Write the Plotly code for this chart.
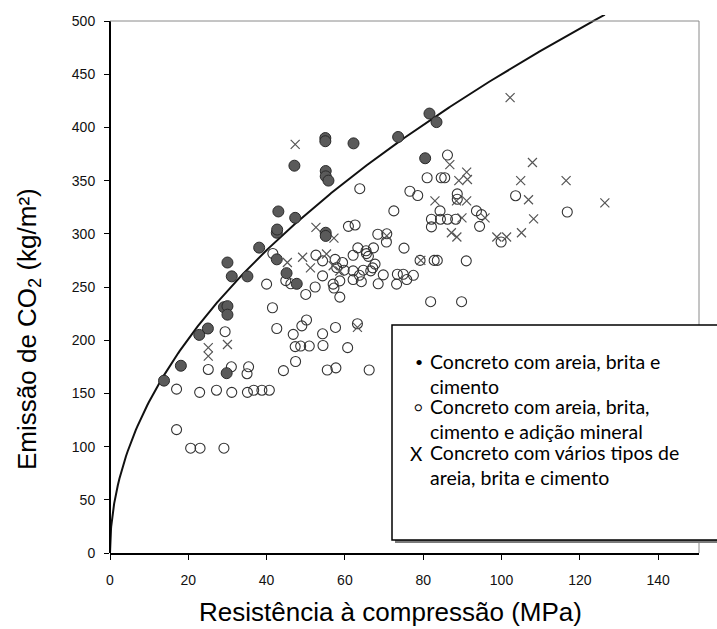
import numpy as np
import plotly.graph_objects as go

# ---------------- data ----------------
filled_x = [13.8, 18.1, 22.8, 25.0, 29.1, 30.0, 30.0, 29.8, 30.0, 31.1, 35.1, 38.1, 42.6, 42.6, 42.7,
            43.0, 45.1, 47.7, 47.3, 47.1, 55.0, 55.0, 55.1, 55.1, 55.8, 55.1, 55.1, 62.2, 73.6, 80.5,
            81.6, 83.4]
filled_y = [162, 176, 205, 211, 231, 232, 224, 169, 273, 260, 260, 287, 276, 301, 304,
            321, 263, 253, 315, 364, 390, 387, 359, 354, 350, 301, 298, 385, 391, 371,
            413, 405]

mineral_x = [17, 22.9, 27.2, 31.1, 35.1, 36.7, 38.8, 40.7,
             17, 20.6, 23, 29.1,
             25.1, 31, 35.4, 35, 44.3, 47.4,
             29.4, 41.5, 40, 42.6,
             46.8, 47.3, 48.7, 50.9, 49, 50.2,
             50, 52.4, 44.9, 46.2, 41.6, 52.6,
             54.3, 57.6, 54.4, 60.7, 55.5, 57.7, 66.2,
             54.3, 57.2, 58.7, 57, 58.7, 54.3, 57.9, 59.4, 57.5,
             59.8, 62.1, 64.7, 63.7, 62.1, 64.2,
             67.7, 66.6, 67.1, 62.1, 66, 65.5, 63.3, 65.4, 67.3, 75.1,
             69.8, 73.4, 74.9, 77.5, 75.8, 73.2, 68.5,
             68.4, 70.7, 70.6,
             60.9, 62.6, 72.5, 63.8, 76.6, 78.6,
             79.2, 82.8, 83.6, 91, 81.9, 89.8,
             81, 84.6, 85.5, 86.2, 88.7, 88.7,
             82.1, 84.4, 86.2, 88.3, 84.3, 82.1, 93.6, 94.4, 94.9,
             103.6, 116.8, 99.9, 63.2]
mineral_y = [154, 151, 153, 151, 151, 153, 153, 153,
             116, 98.5, 98.5, 98.5,
             172.5, 175, 175, 168.5, 171.4, 180,
             208, 230.5, 252.7, 211,
             205.5, 194, 194.5, 194.5, 213.5, 219,
             243, 250, 256, 253, 281.5, 280,
             206, 212, 195, 193, 172, 174, 172,
             260.5, 249, 240.5, 252.7, 255.8, 274.6, 268.3, 273, 276,
             265.8, 265.2, 265.8, 261, 257, 255,
             271.5, 265.2, 268, 279.8, 278.8, 281.4, 286.8, 284, 286.8, 286.5,
             261.4, 262, 262, 261, 257, 252.7, 253,
             299.6, 300, 292.3,
             307, 308.3, 321.5, 342.4, 340, 336,
             275, 275, 275, 274.6, 236.2, 236.2,
             352.7, 352.7, 352.7, 374, 337.5, 332.5,
             313.7, 313.7, 313.7, 313.7, 321.5, 306.5, 321.5, 307, 318,
             335.8, 320.5, 292.3, 215.5]

varios_x = [25.1, 25.1, 30, 45.3, 47.3, 49.2, 51.2, 52.6, 57.2, 55.3, 57, 58.7, 63.2, 70.7, 79.4,
            83, 86.8, 88.5, 89.1, 91.1, 91.3, 91.1, 87.2, 88.6, 89.9, 95.8, 98.8, 101.3, 102.2,
            104.9, 105.1, 106.9, 107.9, 108.2, 116.5, 126.4]
varios_y = [193, 185, 196, 273, 384, 278, 268, 306, 296, 281, 270, 265, 212, 298, 275,
            331, 365, 331, 350, 358, 351, 331, 301, 297, 315, 315, 297, 297, 428,
            350, 301, 332, 367, 314, 350, 329]

# envelope curve  y = a * x^b
curve_a = 45.0
curve_b = 0.5
curve_xmax = 126.4

x_ticks = [0, 20, 40, 60, 80, 100, 120, 140]
y_ticks = [0, 50, 100, 150, 200, 250, 300, 350, 400, 450, 500]

legend_labels = ["Concreto com areia, brita e<br>cimento",
                 "Concreto com areia, brita,<br>cimento e adição mineral",
                 "Concreto com vários tipos de<br>areia, brita e cimento"]
legend_symbols = ["•", "○", "X"]

x_title = "Resistência à compressão (MPa)"
y_title = "Emissão de CO<sub>2</sub> (kg/m²)"

# ---------------- layout geometry (pixels) ----------------
W, H = 717, 629
L, R, T, B = 110, 18, 15, 76
PW, PH = W - L - R, H - T - B
px_per_y = 532.0 / 500.0
y_top = PH / px_per_y
x_top = PW / (78.3 / 20.0)


def px(xp):
    return (xp - L) / PW


def py(yp):
    return (H - B - yp) / PH


curve_x = np.concatenate([np.linspace(0, 2, 60), np.linspace(2, curve_xmax, 300)])
curve_y = curve_a * curve_x ** curve_b

fig = go.Figure()
fig.add_trace(go.Scatter(x=curve_x, y=curve_y, mode="lines",
                         line=dict(color="#111111", width=2), hoverinfo="skip"))
fig.add_trace(go.Scatter(x=mineral_x, y=mineral_y, mode="markers",
                         marker=dict(symbol="circle-open", size=10, color="#333333",
                                     line=dict(width=1.1, color="#333333"))))
fig.add_trace(go.Scatter(x=varios_x, y=varios_y, mode="markers",
                         marker=dict(symbol="x-thin-open", size=9, color="#555555",
                                     line=dict(width=1.2, color="#555555"))))
fig.add_trace(go.Scatter(x=filled_x, y=filled_y, mode="markers",
                         marker=dict(symbol="circle", size=11, color="#5a5a5a",
                                     line=dict(width=1, color="#2a2a2a"))))

font_ax = "Arial, Liberation Sans, sans-serif"

fig.update_layout(
    width=W, height=H, showlegend=False,
    margin=dict(l=L, r=R, t=T, b=B, pad=0),
    paper_bgcolor="white", plot_bgcolor="white",
    xaxis=dict(range=[0, x_top], tickvals=x_ticks, showgrid=False, zeroline=False,
               showline=True, linecolor="black", linewidth=2,
               ticks="outside", ticklen=5, tickwidth=1, tickcolor="black",
               tickfont=dict(family=font_ax, size=14, color="#111111"),
               ticklabelstandoff=8),
    yaxis=dict(range=[0, y_top], tickvals=y_ticks, showgrid=False, zeroline=False,
               showline=False,
               ticks="outside", ticklen=5, tickwidth=1, tickcolor="black",
               tickfont=dict(family=font_ax, size=14, color="#111111"),
               ticklabelstandoff=6),
)

shapes = []
# left axis line (black) and top/right frame (gray)
shapes.append(dict(type="line", xref="paper", yref="y", x0=0, x1=0, y0=0, y1=500,
                   line=dict(color="black", width=2)))
shapes.append(dict(type="line", xref="paper", yref="y", x0=0, x1=1, y0=500, y1=500,
                   line=dict(color="#8a8a8a", width=1)))
shapes.append(dict(type="line", xref="paper", yref="y", x0=1, x1=1, y0=0, y1=500,
                   line=dict(color="#8a8a8a", width=1)))
# legend box with shadow (box runs past the right edge of the picture)
shapes.append(dict(type="rect", xref="paper", yref="paper",
                   x0=px(395), x1=px(740), y0=py(543), y1=py(328),
                   line=dict(width=0), fillcolor="#7a7a7a", layer="above"))
shapes.append(dict(type="rect", xref="paper", yref="paper",
                   x0=px(392), x1=px(735), y0=py(540), y1=py(325),
                   line=dict(color="black", width=1.5), fillcolor="white", layer="above"))
fig.update_layout(shapes=shapes)

ann = []
leg_font = dict(family="Lato, Carlito, Calibri, sans-serif", size=19.5, color="black")
pair_y = [373.5, 418.5, 465]
line_off = 11.8
for i, t in enumerate(legend_labels):
    ann.append(dict(xref="paper", yref="paper", x=px(428), y=py(pair_y[i]), text=t,
                    showarrow=False, xanchor="left", yanchor="middle", align="left",
                    font=leg_font))
sym_sizes = [14, 13, 19]
sym_x = [419, 418, 416.5]
for i, s in enumerate(legend_symbols):
    ann.append(dict(xref="paper", yref="paper", x=px(sym_x[i]), y=py(pair_y[i] - line_off),
                    text=s, showarrow=False, xanchor="center", yanchor="middle",
                    font=dict(family="Lato, sans-serif", size=sym_sizes[i], color="black")))
ann.append(dict(xref="paper", yref="paper", x=px(390), y=py(612), text=x_title,
                showarrow=False, xanchor="center", yanchor="middle",
                font=dict(family=font_ax, size=26, color="black")))
ann.append(dict(xref="paper", yref="paper", x=px(28), y=py(329), text=y_title,
                showarrow=False, xanchor="center", yanchor="middle", textangle=-90,
                font=dict(family=font_ax, size=26, color="black")))
fig.update_layout(annotations=ann)

fig.write_html("out.html")
